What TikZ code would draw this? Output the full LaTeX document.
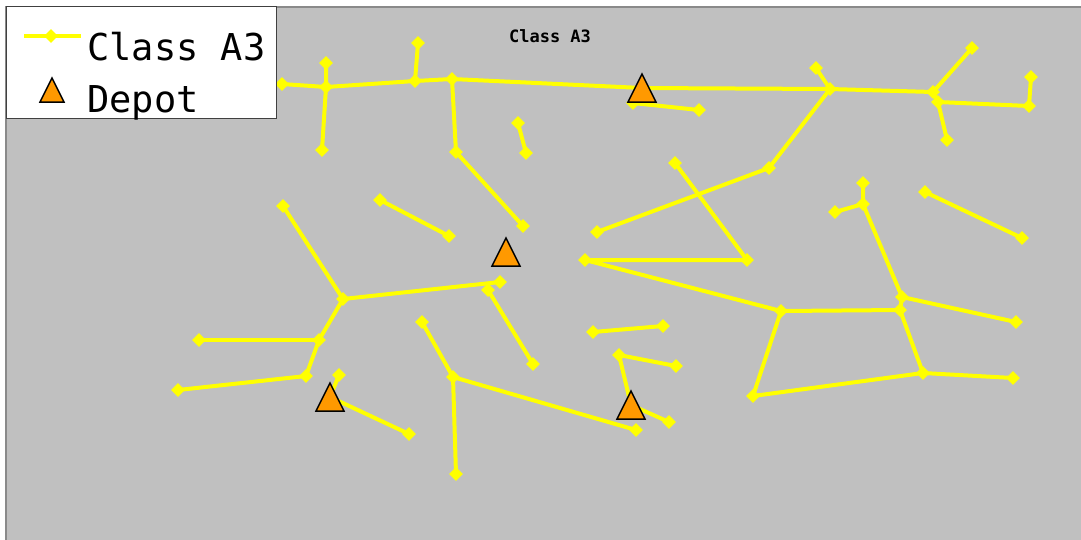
\documentclass[tikz,border=0pt]{standalone}
\usepackage{fontspec}
\newfontfamily\monofont{DejaVu Sans Mono}
\usetikzlibrary{shapes.geometric}
\definecolor{bggray}{HTML}{C0C0C0}
\definecolor{framegray}{HTML}{8A8A8A}
\definecolor{legendgray}{HTML}{404040}
\definecolor{routeyellow}{HTML}{FFFF00}
\definecolor{depotorange}{HTML}{FF9900}
\begin{document}
\begin{tikzpicture}[x=1pt,y=-1pt,
  cust/.style={shape=diamond, fill=routeyellow, inner sep=0pt, minimum width=14pt, minimum height=14pt},
  route/.style={draw=routeyellow, line width=4pt, line join=round},
  pics/depot/.style={code={\draw[fill=depotorange, line width=1.5pt, line join=miter] (-#1,#1) -- (0,-#1) -- (#1,#1) -- cycle;}},
  legendtext/.style={inner sep=0pt, font=\monofont\fontsize{37}{40}\selectfont},
  titletext/.style={inner sep=0pt, font=\monofont\bfseries\fontsize{17}{19}\selectfont}
  ]
\useasboundingbox (0,0) rectangle (1081,539);
\fill[white] (0,0) rectangle (1081,539);
\begin{scope}
\clip (0,0) rectangle (1081,539);
\draw[fill=bggray, draw=framegray, line width=2pt] (6,7) rectangle (1095,555);
\end{scope}

% customers
\node[cust] (a1) at (282,84) {};
\node[cust] (a2) at (326,87) {};
\node[cust] (a3) at (326,63) {};
\node[cust] (a4) at (322,150) {};
\node[cust] (a5) at (415,81) {};
\node[cust] (a6) at (418,43) {};
\node[cust] (a7) at (452,79) {};
\node[cust] (a8) at (456,152) {};
\node[cust] (a9) at (523,226) {};
\node[cust] (a10) at (633,103) {};
\node[cust] (a11) at (699,110) {};
\node[cust] (a12) at (830,89) {};
\node[cust] (a13) at (816,68) {};
\node[cust] (a14) at (933,92) {};
\node[cust] (a15) at (972,48) {};
\node[cust] (a16) at (938,102) {};
\node[cust] (a17) at (1029,106) {};
\node[cust] (a18) at (1031,77) {};
\node[cust] (a19) at (947,140) {};
\node[cust] (a20) at (769,168) {};
\node[cust] (a21) at (597,232) {};
\node[cust] (b1) at (518,123) {};
\node[cust] (b2) at (526,153) {};
\node[cust] (b3) at (675,163) {};
\node[cust] (b4) at (747,260) {};
\node[cust] (b5) at (585,260) {};
\node[cust] (c1) at (781,311) {};
\node[cust] (c2) at (900,310) {};
\node[cust] (c3) at (902,297) {};
\node[cust] (c4) at (1016,322) {};
\node[cust] (c5) at (863,204) {};
\node[cust] (c6) at (863,183) {};
\node[cust] (c7) at (835,212) {};
\node[cust] (c8) at (925,192) {};
\node[cust] (c9) at (1022,238) {};
\node[cust] (c10) at (923,373) {};
\node[cust] (c11) at (753,396) {};
\node[cust] (c12) at (1013,378) {};
\node[cust] (e1) at (283,206) {};
\node[cust] (e2) at (343,299) {};
\node[cust] (e3) at (500,282) {};
\node[cust] (e4) at (319,340) {};
\node[cust] (e5) at (199,340) {};
\node[cust] (e6) at (306,376) {};
\node[cust] (e7) at (178,390) {};
\node[cust] (e8) at (339,375) {};
\node[cust] (e9) at (409,434) {};
\node[cust] (f1) at (380,200) {};
\node[cust] (f2) at (449,236) {};
\node[cust] (f3) at (488,290) {};
\node[cust] (f4) at (533,364) {};
\node[cust] (f5) at (422,322) {};
\node[cust] (f6) at (453,377) {};
\node[cust] (f7) at (636,430) {};
\node[cust] (f8) at (456,474) {};
\node[cust] (g1) at (593,332) {};
\node[cust] (g2) at (663,326) {};
\node[cust] (g3) at (619,355) {};
\node[cust] (g4) at (676,366) {};
\node[cust] (g5) at (669,422) {};

% depots
\coordinate (D1) at (642,88);
\coordinate (D2) at (506,252);
\coordinate (D3) at (330,397);
\coordinate (D4) at (631,405);

% routes
\draw[route] (a1.center) -- (a2.center) -- (a5.center) -- (a7.center) -- (D1) -- (a12.center) -- (a14.center) -- (a15.center);
\draw[route] (a3.center) -- (a2.center) -- (a4.center);
\draw[route] (a6.center) -- (a5.center);
\draw[route] (a7.center) -- (a8.center) -- (a9.center);
\draw[route] (D1) -- (a10.center) -- (a11.center);
\draw[route] (a13.center) -- (a12.center) -- (a20.center) -- (a21.center);
\draw[route] (a14.center) -- (a16.center) -- (a17.center) -- (a18.center);
\draw[route] (a16.center) -- (a19.center);
\draw[route] (b1.center) -- (b2.center);
\draw[route] (b3.center) -- (b4.center) -- (b5.center) -- (c1.center) -- (c2.center) -- (c10.center) -- (c12.center);
\draw[route] (c1.center) -- (c11.center) -- (c10.center);
\draw[route] (c6.center) -- (c5.center) -- (c3.center) -- (c4.center);
\draw[route] (c7.center) -- (c5.center);
\draw[route] (c3.center) -- (c2.center);
\draw[route] (c8.center) -- (c9.center);
\draw[route] (e1.center) -- (e2.center) -- (e3.center);
\draw[route] (e2.center) -- (e4.center) -- (e6.center) -- (e7.center);
\draw[route] (e5.center) -- (e4.center);
\draw[route] (e8.center) -- (D3) -- (e9.center);
\draw[route] (f1.center) -- (f2.center);
\draw[route] (f3.center) -- (f4.center);
\draw[route] (f5.center) -- (f6.center) -- (f7.center);
\draw[route] (f6.center) -- (f8.center);
\draw[route] (g1.center) -- (g2.center);
\draw[route] (g4.center) -- (g3.center) -- (D4) -- (g5.center);

\pic at (D1) {depot=14};
\pic at (D2) {depot=14};
\pic at (D3) {depot=14};
\pic at (D4) {depot=14};

% title
\node[titletext, anchor=base] (title) at (550,42) {Class A3};

% legend
\draw[fill=white, draw=legendgray, line width=1pt] (6,6) rectangle (276,118);
\coordinate (l1) at (24,36);
\coordinate (l2) at (81,36);
\draw[route] (l1) -- (l2);
\node[cust] (lm) at (51,36) {};
\pic at (52,90) {depot=12};
\node[legendtext, anchor=base west] (lt1) at (87,60) {Class A3};
\node[legendtext, anchor=base west] (lt2) at (87,112) {Depot};
\end{tikzpicture}
\end{document}
